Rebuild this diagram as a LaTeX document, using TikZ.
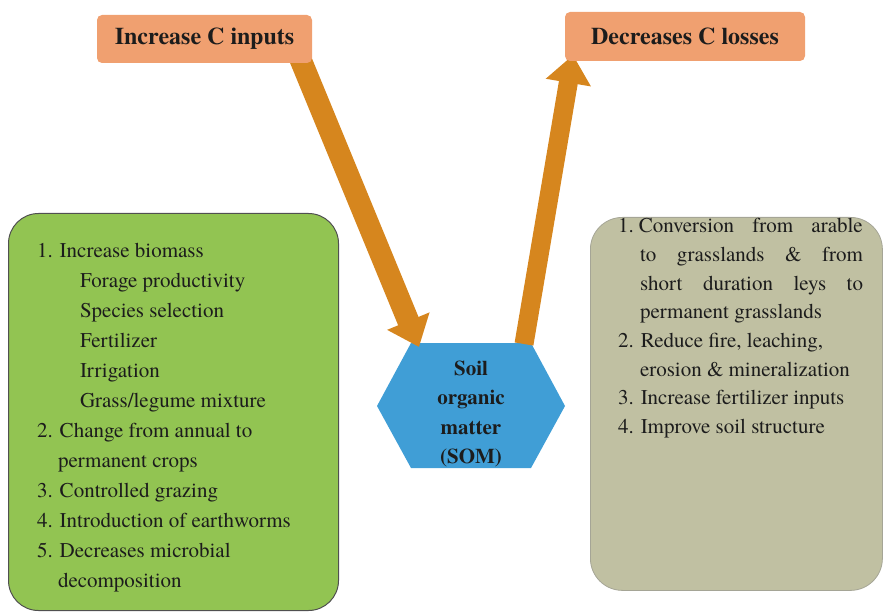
\documentclass[tikz,border=0pt]{standalone}
\usepackage{fontspec}
\setmainfont{texgyretermes}[Extension=.otf, UprightFont=*-regular, BoldFont=*-bold, ItalicFont=*-italic, BoldItalicFont=*-bolditalic]
\usetikzlibrary{arrows.meta}
\definecolor{arrowc}{RGB}{214,134,30}
\definecolor{titlec}{RGB}{240,160,112}
\definecolor{hexc}{RGB}{64,158,214}
\definecolor{greenc}{RGB}{146,196,82}
\definecolor{greenb}{RGB}{80,80,80}
\definecolor{beigec}{RGB}{192,192,162}
\definecolor{beigeb}{RGB}{165,165,150}
\definecolor{txt}{RGB}{28,28,28}
\tikzset{
  titlebox/.style={fill=titlec, rounded corners=5pt, inner sep=0pt, outer sep=0pt, text=txt,
    font=\fontsize{24}{28}\selectfont\bfseries},
  bigarrow/.style={draw=arrowc, -{Triangle[length=28pt,width=44pt]}},
  listtext/.style={inner sep=0pt, outer sep=0pt, text=txt, anchor=base west},
}
\begin{document}
\begin{tikzpicture}[x=1pt,y=-1pt]
\useasboundingbox (0,0) rectangle (885,612);
% side boxes
\node[fill=greenc, draw=greenb, line width=1pt, rounded corners=30pt, minimum width=330pt, minimum height=397pt, anchor=north west, inner sep=0pt] (lbox) at (8,213) {};
\node[fill=beigec, draw=beigeb, line width=0.8pt, rounded corners=32pt, minimum width=292pt, minimum height=373pt, anchor=north west, inner sep=0pt] (rbox) at (590,217) {};
% hexagon
\fill[hexc] (377,406) -- (411,343) -- (531,343) -- (565,406) -- (531,468) -- (411,468) -- cycle;
\node[text=txt, align=center, font=\fontsize{21}{29.5}\selectfont\bfseries, inner sep=0pt] (som) at (471,414) {Soil\\organic\\matter\\(SOM)};
\coordinate (hexTL) at (419,347);
\coordinate (hexTR) at (524,344);
% title box frames (for arrow anchors)
\coordinate (in1c) at (204.5,39);
\coordinate (in2c) at (685,36.5);
\node[inner sep=0pt, outer sep=0pt, minimum width=215pt, minimum height=48pt] (in1) at (in1c) {};
\node[inner sep=0pt, outer sep=0pt, minimum width=240pt, minimum height=49pt] (in2) at (in2c) {};
% arrows
\draw[bigarrow, line width=22pt] ([shift={(95pt,6pt)}]in1.south) -- (hexTL);
\draw[bigarrow, line width=19pt] (hexTR) -- ([shift={(8pt,6pt)}]in2.south west);
\node[titlebox, minimum width=215pt, minimum height=48pt] (t1) at (in1c) {Increase C inputs};
\node[titlebox, minimum width=240pt, minimum height=49pt] (t2) at (in2c) {Decreases C losses};
% left list
\node[listtext] (ltext) at (37,257) {\parbox[t]{300pt}{\fontsize{21}{30}\selectfont\parindent=0pt
1. Increase biomass\\
\hspace*{43pt}Forage productivity\\
\hspace*{43pt}Species selection\\
\hspace*{43pt}Fertilizer\\
\hspace*{43pt}Irrigation\\
\hspace*{43pt}Grass/legume mixture\\
2. Change from annual to\\
\hspace*{21pt}permanent crops\\
3. Controlled grazing\\
4. Introduction of earthworms\\
5. Decreases microbial\\
\hspace*{21pt}decomposition}};
% right list
\node[listtext] (rtext) at (618,233) {\parbox[t]{260pt}{\fontsize{21}{28.6}\selectfont\parindent=0pt
1.\hspace{5pt}\makebox[224pt][s]{Conversion from arable}\\
\hspace*{22pt}\makebox[223pt][s]{to grasslands \& from}\\
\hspace*{22pt}\makebox[223pt][s]{short duration leys to}\\
\hspace*{22pt}permanent grasslands\\
2. Reduce fire, leaching,\\
\hspace*{22pt}erosion \& mineralization\\
3. Increase fertilizer inputs\\
4. Improve soil structure}};
\end{tikzpicture}
\end{document}
